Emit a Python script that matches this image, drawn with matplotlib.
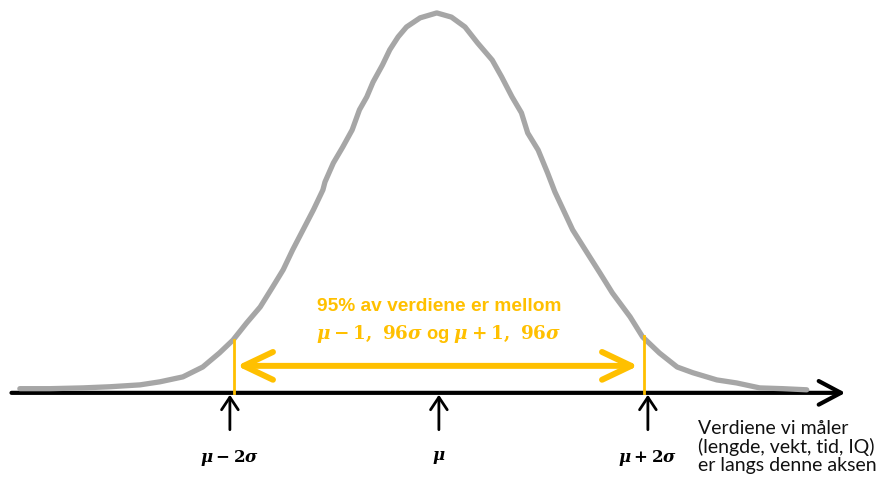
import matplotlib
matplotlib.use("Agg")
import matplotlib.pyplot as plt
from matplotlib.patches import FancyArrowPatch

# bell curve: x in sigma units from mu, height relative to the peak
curve_z = [-4.01, -3.72, -3.41, -3.15, -2.86, -2.67, -2.45, -2.26, -2.10, -1.97,
           -1.84, -1.71, -1.59, -1.49, -1.40, -1.30, -1.20, -1.11, -1.09, -1.01,
           -0.92, -0.83, -0.76, -0.69, -0.63, -0.54, -0.47, -0.39, -0.31, -0.18,
           -0.02, 0.12, 0.25, 0.37, 0.51, 0.60, 0.70, 0.79, 0.85, 0.95,
           1.04, 1.11, 1.19, 1.28, 1.42, 1.54, 1.66, 1.83, 1.95, 2.11,
           2.28, 2.43, 2.66, 2.85, 3.07, 3.29, 3.52]
curve_h = [0.011, 0.011, 0.013, 0.016, 0.021, 0.029, 0.042, 0.068, 0.105, 0.139,
           0.184, 0.226, 0.279, 0.324, 0.376, 0.429, 0.482, 0.534, 0.555, 0.605,
           0.647, 0.692, 0.745, 0.779, 0.818, 0.863, 0.903, 0.937, 0.963, 0.987,
           1.000, 0.989, 0.963, 0.921, 0.876, 0.832, 0.779, 0.737, 0.684, 0.639,
           0.579, 0.529, 0.482, 0.429, 0.368, 0.316, 0.263, 0.200, 0.147, 0.105,
           0.068, 0.053, 0.034, 0.026, 0.013, 0.011, 0.008]

tick_z = [-2, 0, 2]
tick_labels = [r"$\mu - 2\sigma$", r"$\mu$", r"$\mu + 2\sigma$"]

ci_z = [-1.96, 1.96]
ci_top = [0.14, 0.15]

ci_text = ["95% av verdiene er mellom",
           r"$\mu - 1,\ 96\sigma$ og $\mu + 1,\ 96\sigma$"]
axis_note = "Verdiene vi måler\n(lengde, vekt, tid, IQ)\ner langs denne aksen"

GRAY = "#a6a6a6"
GOLD = "#ffc000"

plt.rcParams["font.family"] = ["Lato", "DejaVu Sans"]
plt.rcParams["mathtext.fontset"] = "custom"
plt.rcParams["mathtext.rm"] = "DejaVu Serif:bold"
plt.rcParams["mathtext.it"] = "DejaVu Serif:italic:bold"


def main():
    fig = plt.figure(figsize=(8.83, 4.92), dpi=100)
    ax = fig.add_axes([0, 0, 1, 1])
    ax.set_xlim(-4.20, 4.25)
    ax.set_ylim(-0.261, 1.034)
    ax.axis("off")

    # value axis with open arrow head
    ax.add_patch(FancyArrowPatch((-4.09, 0), (3.89, 0),
                                 arrowstyle="->,head_length=16,head_width=8.5",
                                 mutation_scale=1, lw=3.0, color="black",
                                 shrinkA=0, shrinkB=0, zorder=2))

    ax.plot(curve_z, curve_h, color=GRAY, lw=3.8, solid_capstyle="round",
            solid_joinstyle="round", zorder=3)

    # 95% interval
    for z, top in zip(ci_z, ci_top):
        ax.plot([z, z], [0, top], color=GOLD, lw=2.0, zorder=4)
    ax.add_patch(FancyArrowPatch((ci_z[0], 0.071), (ci_z[1], 0.071),
                                 arrowstyle="<->,head_length=21,head_width=10",
                                 mutation_scale=1, lw=4.3, color=GOLD,
                                 shrinkA=2, shrinkB=4, capstyle="round",
                                 joinstyle="round", zorder=4))
    ax.text(0, 0.226, ci_text[0], color=GOLD, fontsize=13.8, fontweight="bold",
            family=["Liberation Sans", "DejaVu Sans"], ha="center", va="center")
    ax.text(0, 0.155, ci_text[1], color=GOLD, fontsize=13.2, fontweight="bold",
            family=["Liberation Sans", "DejaVu Sans"], ha="center", va="center")

    # markers under the axis
    for z, label in zip(tick_z, tick_labels):
        ax.add_patch(FancyArrowPatch((z, -0.097), (z, -0.005),
                                     arrowstyle="->,head_length=9,head_width=6",
                                     mutation_scale=1, lw=2.0, color="black",
                                     shrinkA=0, shrinkB=0))
        ax.text(z, -0.171, label, fontsize=12, ha="center", va="center")

    ax.text(2.48, -0.072, axis_note, fontsize=14, ha="left", va="top",
            linespacing=1.06, color="#111111")

    fig.savefig("out.png", dpi=100)
    plt.close(fig)


if __name__ == "__main__":
    main()
